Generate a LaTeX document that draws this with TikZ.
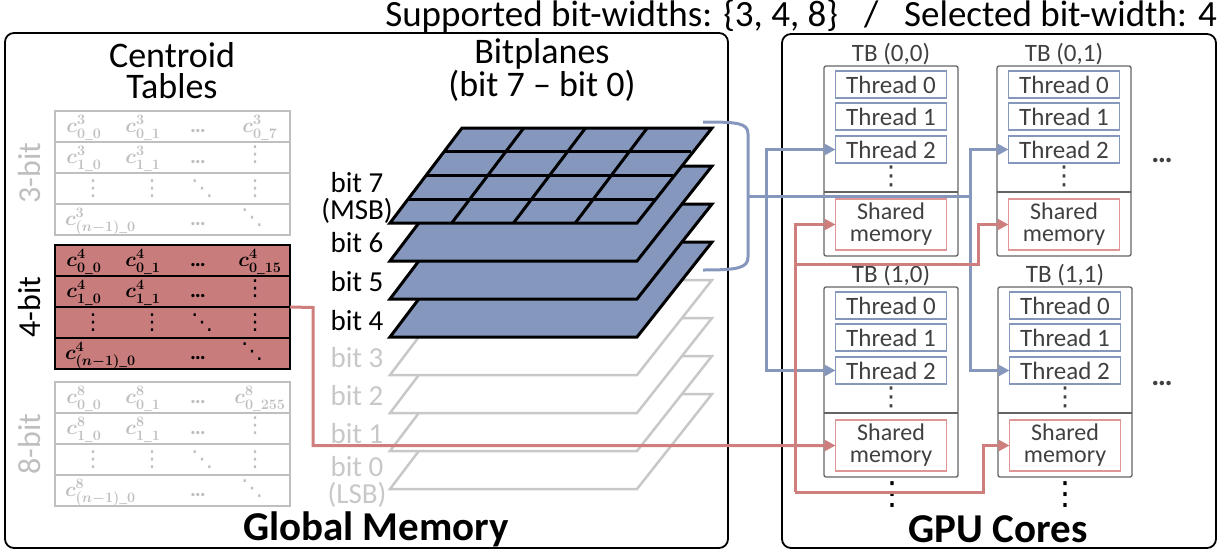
\documentclass[tikz,border=0pt]{standalone}
\usepackage{fontspec}
\setmainfont{Carlito}
\newfontfamily\dv{DejaVu Sans}
\usepackage{amsmath}
\usetikzlibrary{arrows.meta}
\definecolor{bluepl}{RGB}{134,151,190}
\definecolor{redfill}{RGB}{201,124,124}
\definecolor{redln}{RGB}{207,126,126}
\definecolor{redbox}{RGB}{222,150,150}
\definecolor{grayt}{RGB}{191,191,191}
\definecolor{grayp}{RGB}{200,200,200}
\definecolor{dgray}{RGB}{64,64,64}
\definecolor{tbgray}{RGB}{100,100,100}
\newcommand{\fs}[1]{\fontsize{#1}{#1}\selectfont}
\newcommand{\ctable}[6]{% #1 name, #2 top, #3 k, #4 last idx, #5 box style, #6 text colour
  \node[#5, minimum width=235pt, minimum height=124pt] (#1) at (172.5, #2+62) {};
  \foreach \i in {1,2,3} \draw[#5, fill=none] (55, #2+31*\i) -- (290, #2+31*\i);
  \node[ent, text=#6] (#1-11) at (84, #2+21) {$c^{#3}_{0\_0}$};
  \node[ent, text=#6] (#1-12) at (143, #2+21) {$c^{#3}_{0\_1}$};
  \node[hd, text=#6] (#1-13) at (198, #2+21) {…};
  \node[ent, text=#6] (#1-14) at (260, #2+21) {$c^{#3}_{0\_#4}$};
  \node[ent, text=#6] (#1-21) at (84, #2+52) {$c^{#3}_{1\_0}$};
  \node[ent, text=#6] (#1-22) at (143, #2+52) {$c^{#3}_{1\_1}$};
  \node[hd, text=#6] (#1-23) at (198, #2+52) {…};
  \node[vd, text=#6] (#1-24) at (255, #2+44) {⋮};
  \node[vd, text=#6] (#1-31) at (93, #2+78) {⋮};
  \node[vd, text=#6] (#1-32) at (152, #2+78) {⋮};
  \node[vd, text=#6] (#1-33) at (202, #2+78) {⋱};
  \node[vd, text=#6] (#1-34) at (255, #2+78) {⋮};
  \node[ent, text=#6, anchor=base west] (#1-41) at (65, #2+114) {$c^{#3}_{(n-1)\_0}$};
  \node[hd, text=#6] (#1-43) at (198, #2+114) {…};
  \node[vd, text=#6] (#1-44) at (252, #2+107) {⋱};
}
\newcommand{\tbblock}[4]{% #1 name, #2 centre x, #3 top y, #4 label
  \node[tbbox] (#1) at (#2, #3+95) {};
  \node[tblab] (#1-lab) at (#2, #3-12) {#4};
  \node[thr] (#1-t0) at (#2, #3+18.5) {Thread 0};
  \node[thr] (#1-t1) at (#2, #3+50.5) {Thread 1};
  \node[thr] (#1-t2) at (#2, #3+83.5) {Thread 2};
  \node[tdots] (#1-d) at (#2, #3+110) {⋮};
  \draw[tbline] (#2-67, #3+126) -- (#2+67, #3+126);
  \node[shm] (#1-sm) at (#2, #3+158.5) {Shared\\memory};
}
\begin{document}
\begin{tikzpicture}[x=1pt, y=-1pt,
  every node/.style={inner sep=0pt, outer sep=0pt},
  region/.style={draw=black, line width=1.8pt, rounded corners=9pt},
  head/.style={font=\fontsize{36}{31}\selectfont, align=center},
  big/.style={font=\fontsize{41}{41}\selectfont\bfseries},
  tg/.style={draw=grayt, line width=2pt},
  tr/.style={draw=black, fill=redfill, line width=2.5pt},
  ent/.style={anchor=base, font=\fontsize{22}{24}\selectfont\boldmath},
  hd/.style={anchor=base, font=\fontsize{22}{22}\selectfont\bfseries},
  vd/.style={anchor=center, font=\dv\fontsize{22}{22}\selectfont},
  rowlab/.style={rotate=90, font=\fs{32}},
  bitlab/.style={font=\fontsize{29}{27}\selectfont, align=center},
  plg/.style={draw=grayp, fill=white, line width=2.5pt, line join=miter},
  plb/.style={draw=black, fill=bluepl, line width=3pt, line join=miter},
  tbbox/.style={draw=tbgray, line width=1.3pt, rounded corners=2pt, minimum width=134pt, minimum height=190pt},
  tbline/.style={draw=tbgray, line width=1.3pt},
  tblab/.style={font=\fs{25}, text=dgray},
  thr/.style={draw=bluepl, line width=1.2pt, minimum width=111pt, minimum height=27pt, font=\fs{25}, text=dgray},
  shm/.style={draw=redbox, line width=1.2pt, minimum width=111pt, minimum height=51pt, align=center, font=\fontsize{24}{22}\selectfont, text=dgray},
  tdots/.style={font=\dv\fontsize{26}{26}\selectfont, text=dgray},
  bc/.style={draw=bluepl, line width=3pt},
  rc/.style={draw=redln, line width=3pt},
  tip/.style={-{Triangle[length=11pt, width=11pt]}}
]
\useasboundingbox (0,0) rectangle (1218,554);

% title
\node[anchor=east, font=\fs{37}] (title) at (1217,16) {Supported bit-widths: \{3, 4, 8\}\hspace{0.7em}/\hspace{0.7em}Selected bit-width: 4};

% regions
\node[region, minimum width=723pt, minimum height=515pt] (gm) at (366.5,290.5) {};
\node[region, minimum width=434pt, minimum height=514pt] (gpu) at (999,291) {};
\node[big] (gmlab) at (376,529) {Global Memory};
\node[big] (gpulab) at (998,529) {GPU Cores};

% headers
\node[head] (cthead) at (172,71) {Centroid\\Tables};
\node[head] (bphead) at (542,70) {Bitplanes\\(bit 7 -- bit 0)};

% centroid tables
\ctable{t3}{111}{3}{7}{tg}{grayt}
\ctable{t4}{245}{4}{15}{tr}{black}
\ctable{t8}{382}{8}{255}{tg}{grayt}
\node[rowlab, text=grayt] (l3) at (30,173) {3-bit};
\node[rowlab, text=black] (l4) at (30,307) {4-bit};
\node[rowlab, text=grayt] (l8) at (30,444) {8-bit};

% bitplanes
\foreach \b in {0,1,2,3}{
  \pgfmathsetmacro\yb{489-38*\b}
  \draw[plg] (390,\yb) -- (637,\yb) -- (712,\yb-95) -- (462,\yb-95) -- cycle;
}
\foreach \b in {4,5,6,7}{
  \pgfmathsetmacro\yb{489-38*\b}
  \draw[plb] (390,\yb) -- (637,\yb) -- (712,\yb-95) -- (462,\yb-95) -- cycle;
}
\foreach \i in {1,2,3}{
  \draw[plb, fill=none] (390+18*\i, 223-23.75*\i) -- (637+18*\i, 223-23.75*\i);
  \draw[plb, fill=none] (390+61.75*\i, 223) -- (462+61.75*\i, 128);
}
\node[bitlab] (b7) at (357,198) {bit 7\\(MSB)};
\node[bitlab] (b6) at (357,243) {bit 6};
\node[bitlab] (b5) at (357,282) {bit 5};
\node[bitlab] (b4) at (357,321) {bit 4};
\node[bitlab, text=grayp] (b3) at (357,358) {bit 3};
\node[bitlab, text=grayp] (b2) at (357,396) {bit 2};
\node[bitlab, text=grayp] (b1) at (357,434) {bit 1};
\node[bitlab, text=grayp] (b0) at (357,482) {bit 0\\(LSB)};

% GPU thread blocks
\tbblock{tb00}{891}{66}{TB (0,0)}
\tbblock{tb01}{1064}{66}{TB (0,1)}
\tbblock{tb10}{891}{287}{TB (1,0)}
\tbblock{tb11}{1065}{287}{TB (1,1)}
\node[font=\fontsize{30}{30}\selectfont\bfseries, text=dgray] (hd1) at (1162,160) {…};
\node[font=\fontsize{30}{30}\selectfont\bfseries, text=dgray] (hd2) at (1162,383) {…};
\node[font=\dv\fontsize{32}{32}\selectfont] (vd1) at (892,495) {⋮};
\node[font=\dv\fontsize{32}{32}\selectfont] (vd2) at (1065,495) {⋮};

% blue brace and connectors
\coordinate (brace) at (748,196);
\coordinate (bj1) at (766,196);
\coordinate (bj2) at (970,196);
\draw[bc] (703,122) .. controls (738,122) and (748,123) .. (748,134) -- (748,257) .. controls (748,268) and (738,270) .. (703,270);
\draw[bc] (brace) -- (bj2);
\draw[bc, tip] (bj1) |- (tb00-t2.west);
\draw[bc, tip] (bj1) |- (tb10-t2.west);
\draw[bc, tip] (bj2) |- (tb01-t2.west);
\draw[bc, tip] (bj2) |- (tb11-t2.west);

% red connectors
\coordinate (r1) at (313,307.5);
\coordinate (rc1) at (795,492);
\coordinate (rc2) at (983,492);
\coordinate (rc3) at (795,264);
\coordinate (rc4) at (978,264);
\draw[rc, tip] (t4.east) -- (r1) |- (tb10-sm.west);
\draw[rc, tip] (rc1) |- (tb00-sm.west);
\draw[rc, tip] (rc1) -- (rc2) |- (tb11-sm.west);
\draw[rc, tip] (rc3) -- (rc4) |- (tb01-sm.west);
\end{tikzpicture}
\end{document}
